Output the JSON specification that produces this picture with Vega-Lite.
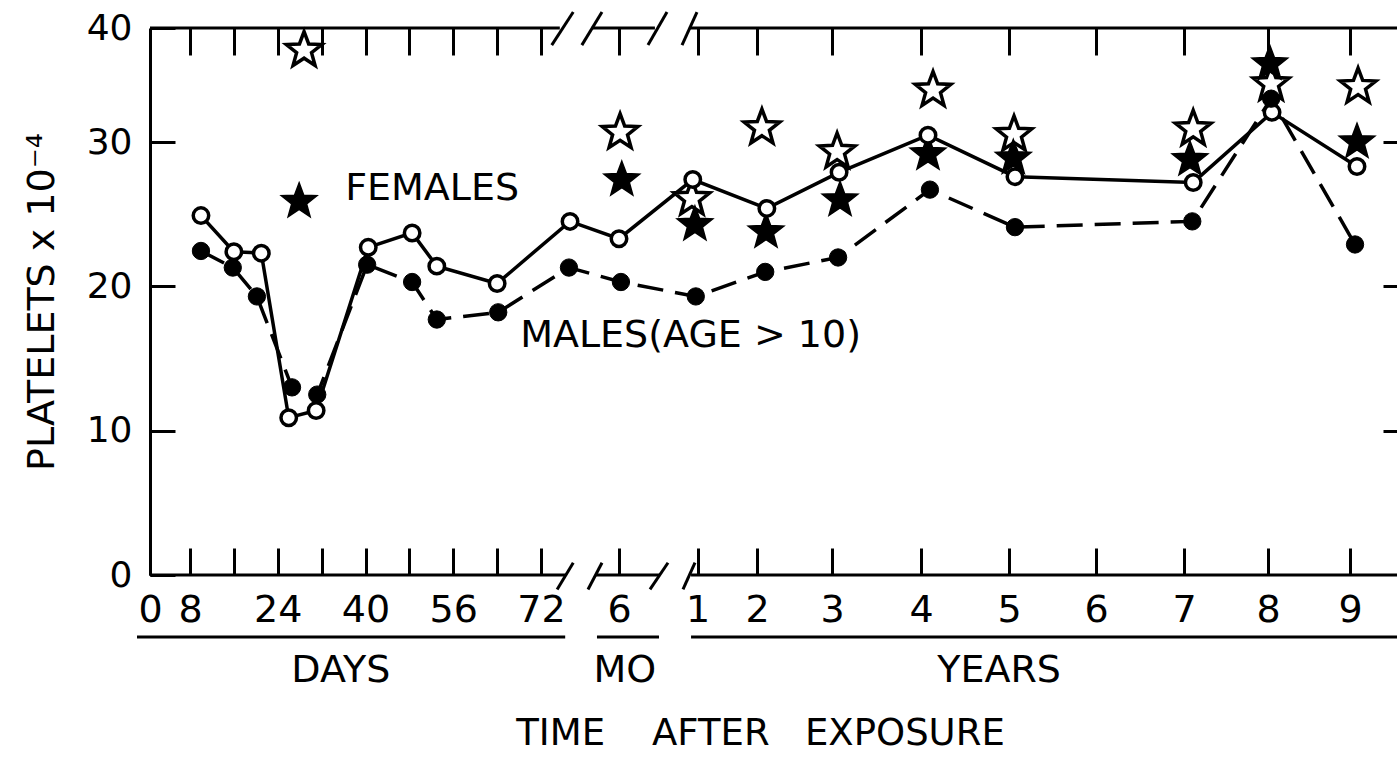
{
  "$schema": "https://vega.github.io/schema/vega-lite/v6.json",
  "width": 1247,
  "height": 547,
  "autosize": {"type": "none"},
  "padding": {"left": 150, "top": 28, "right": 0, "bottom": 182},
  "background": "white",
  "view": {"stroke": null},
  "config": {
    "font": "DejaVu Sans",
    "axis": {"grid": false, "labelFont": "DejaVu Sans", "titleFont": "DejaVu Sans", "labelColor": "black", "titleColor": "black", "titleFontWeight": "normal"},
    "text": {"font": "DejaVu Sans"}
  },
  "datasets": {
    "points": [
      {"g": "Females", "t": 10, "v": 24.9},
      {"g": "Females", "t": 16, "v": 22.4},
      {"g": "Females", "t": 21, "v": 22.3},
      {"g": "Females", "t": 26, "v": 10.9},
      {"g": "Females", "t": 31, "v": 11.4},
      {"g": "Females", "t": 40.5, "v": 22.7},
      {"g": "Females", "t": 48.5, "v": 23.7},
      {"g": "Females", "t": 53, "v": 21.4},
      {"g": "Females", "t": 64, "v": 20.2},
      {"g": "Females", "t": 77.4, "v": 24.5},
      {"g": "Females", "t": 182.5, "v": 23.3},
      {"g": "Females", "t": 354, "v": 27.4},
      {"g": "Females", "t": 778, "v": 25.4},
      {"g": "Females", "t": 1124, "v": 27.9},
      {"g": "Females", "t": 1489, "v": 30.6},
      {"g": "Females", "t": 1850, "v": 27.6},
      {"g": "Females", "t": 2595, "v": 27.2},
      {"g": "Females", "t": 2938, "v": 32.6},
      {"g": "Females", "t": 3317, "v": 28.3},
      {"g": "Males", "t": 10, "v": 22.45},
      {"g": "Males", "t": 15.8, "v": 21.3},
      {"g": "Males", "t": 20.2, "v": 19.3},
      {"g": "Males", "t": 26.6, "v": 13.0},
      {"g": "Males", "t": 31.2, "v": 12.5},
      {"g": "Males", "t": 40.3, "v": 21.5},
      {"g": "Males", "t": 48.5, "v": 20.3},
      {"g": "Males", "t": 53, "v": 17.7},
      {"g": "Males", "t": 64.2, "v": 18.2},
      {"g": "Males", "t": 77.2, "v": 21.3},
      {"g": "Males", "t": 187, "v": 20.3},
      {"g": "Males", "t": 361, "v": 19.3},
      {"g": "Males", "t": 770, "v": 21.0},
      {"g": "Males", "t": 1120, "v": 22.0},
      {"g": "Males", "t": 1497, "v": 26.7},
      {"g": "Males", "t": 1850, "v": 24.1},
      {"g": "Males", "t": 2591, "v": 24.5},
      {"g": "Males", "t": 2934, "v": 33.8},
      {"g": "Males", "t": 3308, "v": 22.9},
      {"g": "OpenStar", "t": 28.8, "v": 38.2},
      {"g": "OpenStar", "t": 185, "v": 31.0},
      {"g": "OpenStar", "t": 352, "v": 26.2},
      {"g": "OpenStar", "t": 754, "v": 31.4},
      {"g": "OpenStar", "t": 1116, "v": 29.45},
      {"g": "OpenStar", "t": 1510, "v": 34.7},
      {"g": "OpenStar", "t": 1846, "v": 30.8},
      {"g": "OpenStar", "t": 2595, "v": 31.3},
      {"g": "OpenStar", "t": 2934, "v": 35.25},
      {"g": "OpenStar", "t": 3322, "v": 35.0},
      {"g": "FilledStar", "t": 27.9, "v": 26.0},
      {"g": "FilledStar", "t": 189, "v": 27.5},
      {"g": "FilledStar", "t": 359, "v": 24.4},
      {"g": "FilledStar", "t": 774, "v": 23.9},
      {"g": "FilledStar", "t": 1128, "v": 26.1},
      {"g": "FilledStar", "t": 1489, "v": 29.3},
      {"g": "FilledStar", "t": 1843, "v": 29.0},
      {"g": "FilledStar", "t": 2581, "v": 28.9},
      {"g": "FilledStar", "t": 2928, "v": 37.0},
      {"g": "FilledStar", "t": 3317, "v": 30.15}
    ],
    "segs": [
      {"t": 0, "t2": 76.5, "v": 0, "v2": 0},
      {"t": 115, "t2": 278, "v": 0, "v2": 0},
      {"t": 350, "t2": 3500, "v": 0, "v2": 0},
      {"t": 0, "t2": 75.5, "v": 40, "v2": 40},
      {"t": 103, "t2": 266, "v": 40, "v2": 40},
      {"t": 348, "t2": 3500, "v": 40, "v2": 40},
      {"t": 75.0, "t2": 78.0, "v": -1.0, "v2": 0.85},
      {"t": 91.7, "t2": 132.7, "v": -1.0, "v2": 0.85},
      {"t": 254.6, "t2": 296.4, "v": -1.0, "v2": 0.85},
      {"t": 331.3, "t2": 359.2, "v": -1.0, "v2": 0.85},
      {"t": 74.0, "t2": 78.0, "v": 38.5, "v2": 41.4},
      {"t": 79.6, "t2": 132.7, "v": 38.5, "v2": 41.4},
      {"t": 249.9, "t2": 294.1, "v": 38.5, "v2": 41.4},
      {"t": 329, "t2": 363.8, "v": 38.5, "v2": 41.4},
      {"t": -2.6, "t2": 76.5, "v": -4.3, "v2": -4.3},
      {"t": 118, "t2": 275.5, "v": -4.3, "v2": -4.3},
      {"t": 350, "t2": 3500, "v": -4.3, "v2": -4.3}
    ],
    "notes": [
      {"label": "FEMALES", "t": 36.3, "v": 26.75},
      {"label": "MALES(AGE > 10)", "t": 68.2, "v": 16.53}
    ],
    "groups": [
      {"label": "DAYS", "t": 35.5, "v": -6.65},
      {"label": "MO", "t": 196, "v": -6.65},
      {"label": "YEARS", "t": 1784, "v": -6.65}
    ]
  },
  "encoding": {
    "x": {"field": "t", "type": "quantitative", "axis": null,
      "scale": {"type": "linear", "domain": [0, 8, 72, 80, 182.5, 365, 730, 1095, 1460, 1825, 2190, 2555, 2920, 3285, 3500], "range": [0, 40, 391, 434, 469, 547.5, 607, 682, 771, 859, 946, 1034, 1118, 1200, 1247], "nice": false, "zero": false}},
    "y": {"field": "v", "type": "quantitative", "axis": null,
      "scale": {"type": "linear", "domain": [0, 30, 40], "range": [547, 114, 0], "nice": false, "zero": false}}
  },
  "resolve": {"axis": {"x": "independent", "y": "independent"}},
  "layer": [
    {
      "data": {"name": "segs"},
      "mark": {"type": "rule", "color": "black", "strokeWidth": 3, "strokeCap": "butt"},
      "encoding": {"x2": {"field": "t2"}, "y2": {"field": "v2"}}
    },
    {
      "data": {"name": "points"},
      "transform": [{"filter": {"field": "g", "equal": "Females"}}],
      "mark": {"type": "line", "color": "black", "strokeWidth": 3.5},
      "encoding": {
        "x": {"field": "t", "type": "quantitative",
          "scale": {"type": "linear", "domain": [0, 8, 72, 80, 182.5, 365, 730, 1095, 1460, 1825, 2190, 2555, 2920, 3285, 3500], "range": [0, 40, 391, 434, 469, 547.5, 607, 682, 771, 859, 946, 1034, 1118, 1200, 1247], "nice": false, "zero": false},
          "axis": {
            "orient": "bottom",
            "values": [0, 8, 16, 24, 32, 40, 48, 56, 64, 72, 182.5, 365, 730, 1095, 1460, 1825, 2190, 2555, 2920, 3285],
            "labelExpr": "datum.value >= 365 ? format(datum.value / 365, 'd') : datum.value > 100 ? '6' : (datum.value > 0 && datum.value % 16 == 0) ? '' : format(datum.value, 'd')",
            "domain": false, "ticks": true, "tickSize": -27, "tickWidth": 3, "tickColor": "black",
            "labelPadding": 43, "labelFontSize": 38, "labelFlush": false, "labelOverlap": false, "labelBound": false,
            "title": "TIME\u00a0\u00a0\u00a0\u00a0AFTER\u00a0\u00a0\u00a0EXPOSURE", "titleFontSize": 37, "titlePadding": 86, "titleX": 610, "grid": false
          }},
        "y": {"field": "v", "type": "quantitative",
          "scale": {"type": "linear", "domain": [0, 30, 40], "range": [547, 114, 0], "nice": false, "zero": false},
          "axis": {
            "orient": "left", "values": [0, 10, 20, 30, 40], "format": "d",
            "domain": true, "domainColor": "black", "domainWidth": 3,
            "tickSize": -25, "tickWidth": 3, "tickColor": "black",
            "labelPadding": 43, "labelFontSize": 36, "labelOverlap": false, "labelFlush": false, "labelBound": false,
            "title": "PLATELETS x 10\u207b\u2074", "titleFontSize": 38, "titlePadding": 25, "grid": false
          }}
      }
    },
    {
      "data": {"name": "points"},
      "transform": [{"filter": {"field": "g", "equal": "Males"}}],
      "mark": {"type": "line", "color": "black", "strokeWidth": 3.5, "strokeDash": [26, 12]},
      "encoding": {
        "x": {"field": "t", "type": "quantitative",
          "scale": {"type": "linear", "domain": [0, 8, 72, 80, 182.5, 365, 730, 1095, 1460, 1825, 2190, 2555, 2920, 3285, 3500], "range": [0, 40, 391, 434, 469, 547.5, 607, 682, 771, 859, 946, 1034, 1118, 1200, 1247], "nice": false, "zero": false},
          "axis": {
            "orient": "top",
            "values": [8, 16, 24, 32, 40, 48, 56, 64, 72, 182.5, 365, 730, 1095, 1460, 1825, 2190, 2555, 2920, 3285],
            "labels": false, "domain": false, "tickSize": -27, "tickWidth": 3, "tickColor": "black", "title": null, "grid": false
          }},
        "y": {"field": "v", "type": "quantitative",
          "scale": {"type": "linear", "domain": [0, 30, 40], "range": [547, 114, 0], "nice": false, "zero": false},
          "axis": {
            "orient": "right", "values": [10, 20, 30], "labels": false,
            "domain": true, "domainColor": "black", "domainWidth": 3, "offset": 10,
            "tickSize": -24, "tickWidth": 3, "tickColor": "black", "title": null, "grid": false
          }}
      }
    },
    {
      "data": {"name": "points"},
      "transform": [{"filter": {"field": "g", "equal": "OpenStar"}}],
      "mark": {"type": "point", "shape": "M0,-0.905L0.247,-0.245L0.951,-0.214L0.399,0.226L0.588,0.905L0,0.516L-0.588,0.905L-0.399,0.226L-0.951,-0.214L-0.247,-0.245Z", "size": 1400, "filled": true, "fill": "white", "stroke": "black", "strokeWidth": 3.5, "opacity": 1}
    },
    {
      "data": {"name": "points"},
      "transform": [{"filter": {"field": "g", "equal": "FilledStar"}}],
      "mark": {"type": "point", "shape": "M0,-0.905L0.247,-0.245L0.951,-0.214L0.399,0.226L0.588,0.905L0,0.516L-0.588,0.905L-0.399,0.226L-0.951,-0.214L-0.247,-0.245Z", "size": 1400, "filled": true, "fill": "black", "stroke": "black", "strokeWidth": 1.5, "opacity": 1}
    },
    {
      "data": {"name": "points"},
      "transform": [{"filter": {"field": "g", "equal": "Females"}}],
      "mark": {"type": "point", "shape": "circle", "size": 240, "filled": true, "fill": "white", "stroke": "black", "strokeWidth": 3.5, "opacity": 1}
    },
    {
      "data": {"name": "points"},
      "transform": [{"filter": {"field": "g", "equal": "Males"}}],
      "mark": {"type": "point", "shape": "circle", "size": 300, "filled": true, "fill": "black", "stroke": "black", "strokeWidth": 1, "opacity": 1}
    },
    {
      "data": {"name": "notes"},
      "mark": {"type": "text", "align": "left", "baseline": "middle", "fontSize": 38, "color": "black"},
      "encoding": {"text": {"field": "label"}}
    },
    {
      "data": {"name": "groups"},
      "mark": {"type": "text", "align": "center", "baseline": "middle", "fontSize": 38, "color": "black"},
      "encoding": {"text": {"field": "label"}}
    }
  ]
}
